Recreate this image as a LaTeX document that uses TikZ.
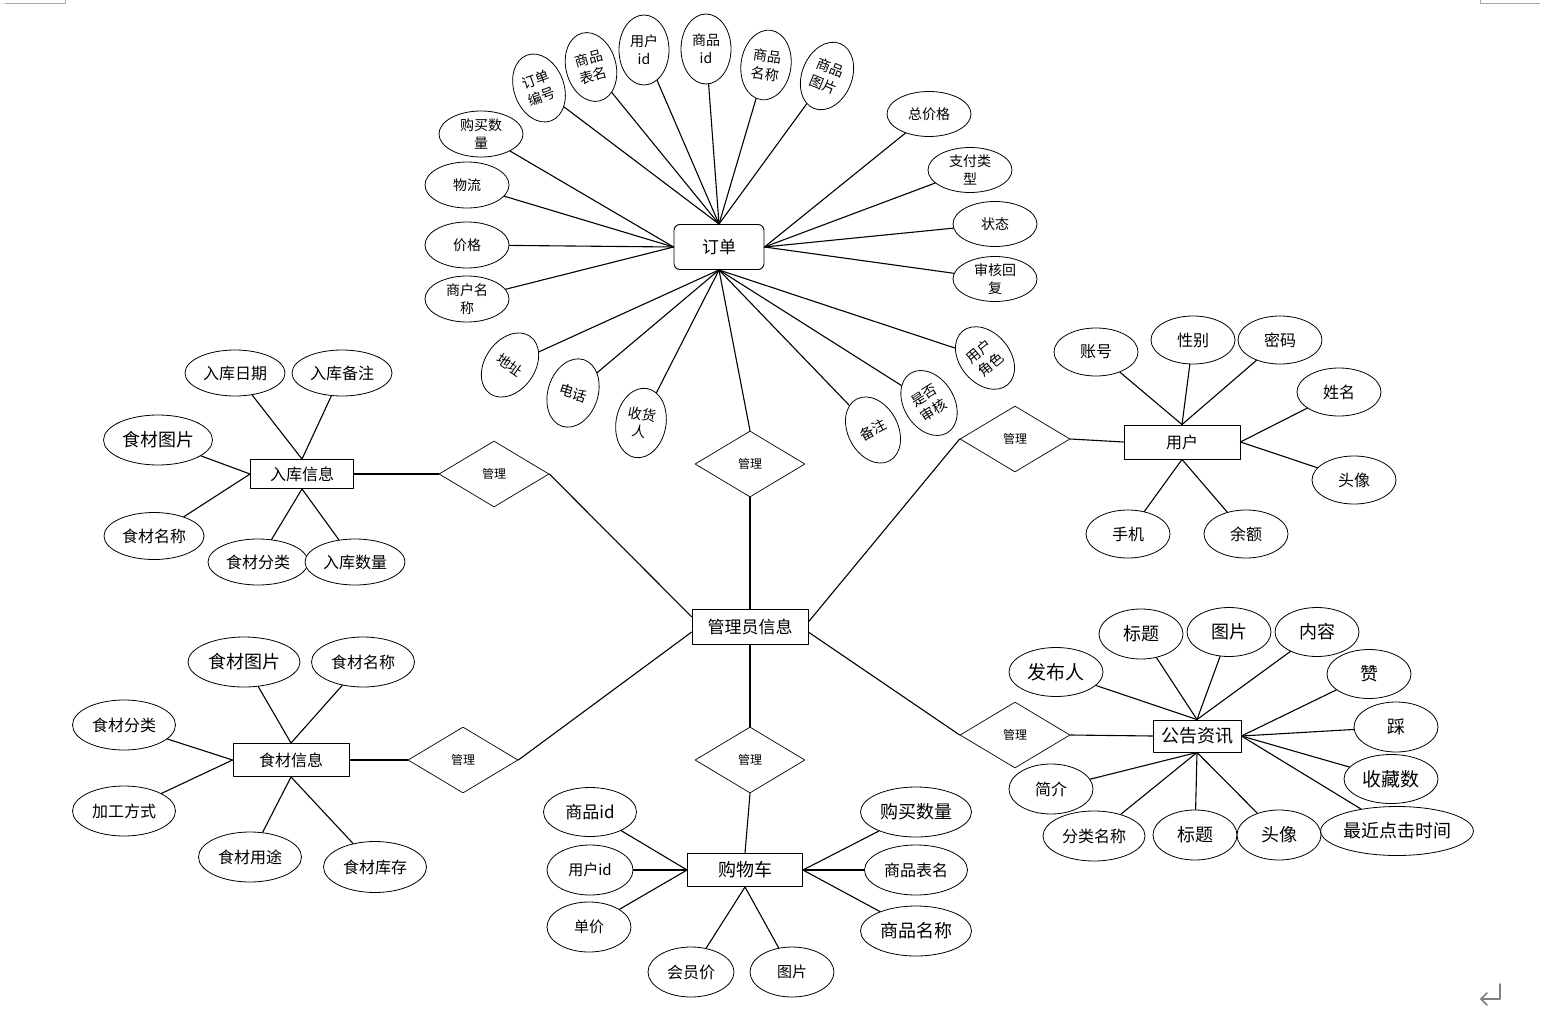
\documentclass[tikz,border=0pt]{standalone}
\usepackage{fontspec}
\setmainfont{Noto Sans CJK SC}
\usetikzlibrary{shapes.geometric}

\newcommand\fsz[2]{\fontsize{#1}{#2}\selectfont}

\tikzset{
  attr/.style={ellipse, draw, fill=white, line width=0.8pt, inner sep=0pt,
    minimum width=84, minimum height=48, align=center, font=\fsz{16}{19}},
  oattr/.style={attr, font=\fsz{14}{18}},
  vattr/.style={oattr, minimum width=50, minimum height=70},
  ent/.style={rectangle, draw, fill=white, line width=0.9pt,
    minimum width=116, minimum height=34, font=\fsz{16}{19}},
  rel/.style={diamond, draw, fill=white, line width=0.7pt, inner sep=0pt,
    minimum width=110, minimum height=66, font=\fsz{12}{14}},
  conn/.style={line width=1.1pt}
}

\begin{document}
\begin{tikzpicture}[x=1pt, y=-1pt, line cap=round, line join=round]
  \useasboundingbox (0,0) rectangle (1557,1019);

  % Segni della pagina
  \draw[gray!70, line width=0.8pt] (5,3) -- (65,3) -- (65,0);
  \draw[gray!70, line width=0.8pt] (1480,0) -- (1480,3) -- (1540,3);
  \draw[gray, line width=1.6pt] (1500,984) -- (1500,999) -- (1481,999);
  \draw[gray, line width=1.6pt] (1487,993) -- (1481,999) -- (1487,1005);

  % Entita
  \node[ent, rounded corners=6, minimum width=90, minimum height=45, font=\fsz{17}{20}] (ord) at (719,247) {订单};
  \node[ent, minimum height=35, font=\fsz{17}{20}] (admin) at (750,627) {管理员信息};
  \node[ent, minimum width=103, minimum height=29] (stock) at (302,474) {入库信息};
  \node[ent] (user) at (1182,442) {用户};
  \node[ent, minimum height=33] (food) at (291,760) {食材信息};
  \node[ent, minimum width=115, minimum height=33, font=\fsz{18}{20}] (cart) at (745,870) {购物车};
  \node[ent, minimum width=88, minimum height=32, font=\fsz{18}{20}] (news) at (1197,736) {公告资讯};

  % Relazioni
  \node[rel] (rOrd) at (750,464) {管理};
  \node[rel] (rStock) at (494,474) {管理};
  \node[rel] (rUser) at (1015,439) {管理};
  \node[rel] (rFood) at (463,760) {管理};
  \node[rel] (rCart) at (750,760) {管理};
  \node[rel] (rNews) at (1015,735) {管理};

  \draw[conn] (ord.south) -- (rOrd.north);
  \draw[conn] (rOrd.south) -- (admin.north);
  \draw[conn] (stock.east) -- (rStock.west);
  \draw[conn] (rStock.east) -- (admin.170);
  \draw[conn] (rUser.west) -- (admin.5);
  \draw[conn] (rUser.east) -- (user.west);
  \draw[conn] (food.east) -- (rFood.west);
  \draw[conn] (rFood.east) -- (admin.185);
  \draw[conn] (admin.south) -- (rCart.north);
  \draw[conn] (rCart.south) -- (cart.north);
  \draw[conn] (admin.-5) -- (rNews.west);
  \draw[conn] (rNews.east) -- (news.west);

  % Attributi ordine
  \node[vattr, rotate=20] (oNum) at (539,88) {订单\\编号};
  \node[vattr, rotate=15] (oTab) at (591,67) {商品\\表名};
  \node[vattr] (oUid) at (644,50) {用户\\id};
  \node[vattr] (oGid) at (706,49) {商品\\id};
  \node[vattr, rotate=-8] (oGnm) at (766,65) {商品\\名称};
  \node[vattr, rotate=-22] (oImg) at (827,76) {商品\\图片};
  \node[oattr, minimum height=46] (oQty) at (481,134) {购买数\\量};
  \node[oattr, minimum height=46] (oLog) at (467,185) {物流};
  \node[oattr, minimum height=46] (oPri) at (467,245) {价格};
  \node[oattr, minimum height=46] (oShop) at (467,299) {商户名\\称};
  \node[oattr, minimum height=45] (oTot) at (929,114) {总价格};
  \node[oattr, minimum height=45] (oPay) at (970,170) {支付类\\型};
  \node[oattr, minimum height=45] (oSta) at (995,224) {状态};
  \node[oattr, minimum height=45] (oRev) at (995,279) {审核回\\复};
  \node[vattr, rotate=-35] (oAdr) at (510,365) {地址};
  \node[vattr, rotate=-18] (oTel) at (573,393) {电话};
  \node[vattr, rotate=-10] (oRcv) at (641,423) {收货\\人};
  \node[vattr, rotate=28] (oNote) at (873,430) {备注};
  \node[vattr, rotate=32] (oChk) at (929,403) {是否\\审核};
  \node[vattr, rotate=40] (oRole) at (985,358) {用户\\角色};

  \foreach \a in {oNum,oTab,oUid,oGid,oGnm,oImg} \draw[conn] (\a) -- (ord.north);
  \foreach \a in {oQty,oLog,oPri,oShop} \draw[conn] (\a) -- (ord.west);
  \foreach \a in {oTot,oPay,oSta,oRev} \draw[conn] (\a) -- (ord.east);
  \foreach \a in {oAdr,oTel,oRcv,oNote,oChk,oRole} \draw[conn] (\a) -- (ord.south);

  % Attributi utente
  \node[attr] (uAcc) at (1096,352) {账号};
  \node[attr] (uSex) at (1193,340) {性别};
  \node[attr] (uPwd) at (1280,340) {密码};
  \node[attr] (uName) at (1339,392) {姓名};
  \node[attr] (uAva) at (1354,480) {头像};
  \node[attr] (uTel) at (1128,534) {手机};
  \node[attr] (uBal) at (1246,534) {余额};

  \foreach \a in {uAcc,uSex,uPwd} \draw[conn] (\a) -- (user.north);
  \foreach \a in {uName,uAva} \draw[conn] (\a) -- (user.east);
  \foreach \a in {uTel,uBal} \draw[conn] (\a) -- (user.south);

  % Attributi magazzino
  \node[attr, minimum width=100, minimum height=46] (sDate) at (235,373) {入库日期};
  \node[attr, minimum width=100, minimum height=46] (sNote) at (342,373) {入库备注};
  \node[attr, minimum width=109, minimum height=50, font=\fsz{18}{20}] (sImg) at (158,440) {食材图片};
  \node[attr, minimum width=100, minimum height=47] (sName) at (154,536) {食材名称};
  \node[attr, minimum width=100, minimum height=46] (sCat) at (258,562) {食材分类};
  \node[attr, minimum width=100, minimum height=46] (sQty) at (355,562) {入库数量};

  \foreach \a in {sDate,sNote} \draw[conn] (\a) -- (stock.north);
  \foreach \a in {sImg,sName} \draw[conn] (\a) -- (stock.west);
  \foreach \a in {sCat,sQty} \draw[conn] (\a) -- (stock.south);

  % Attributi alimenti
  \node[attr, minimum width=112, minimum height=50, font=\fsz{18}{20}] (fImg) at (244,662) {食材图片};
  \node[attr, minimum width=103, minimum height=50] (fName) at (363,662) {食材名称};
  \node[attr, minimum width=103, minimum height=50] (fCat) at (124,725) {食材分类};
  \node[attr, minimum width=103, minimum height=50] (fProc) at (124,811) {加工方式};
  \node[attr, minimum width=103, minimum height=50] (fUse) at (250,857) {食材用途};
  \node[attr, minimum width=103, minimum height=51] (fStk) at (375,867) {食材库存};

  \foreach \a in {fImg,fName} \draw[conn] (\a) -- (food.north);
  \foreach \a in {fCat,fProc} \draw[conn] (\a) -- (food.west);
  \foreach \a in {fUse,fStk} \draw[conn] (\a) -- (food.south);

  % Attributi carrello
  \node[attr, minimum width=93, minimum height=49, font=\fsz{17}{20}] (cGid) at (590,812) {商品id};
  \node[attr, minimum width=86, minimum height=50, font=\fsz{15}{18}] (cUid) at (590,870) {用户id};
  \node[attr, minimum height=50, font=\fsz{15}{18}] (cPri) at (589,927) {单价};
  \node[attr, minimum width=86, minimum height=50] (cVip) at (691,972) {会员价};
  \node[attr, minimum height=50, font=\fsz{15}{18}] (cImg) at (792,972) {图片};
  \node[attr, minimum width=111, minimum height=50, font=\fsz{18}{20}] (cQty) at (916,812) {购买数量};
  \node[attr, minimum width=103, minimum height=50] (cTab) at (916,870) {商品表名};
  \node[attr, minimum width=111, minimum height=50, font=\fsz{18}{20}] (cNam) at (916,931) {商品名称};

  \foreach \a in {cGid,cUid,cPri} \draw[conn] (\a) -- (cart.west);
  \foreach \a in {cQty,cTab,cNam} \draw[conn] (\a) -- (cart.east);
  \foreach \a in {cVip,cImg} \draw[conn] (\a) -- (cart.south);

  % Attributi notizie
  \node[attr, minimum width=94, minimum height=49, font=\fsz{19}{21}] (nPub) at (1056,672) {发布人};
  \node[attr, minimum height=50, font=\fsz{18}{20}] (nTit) at (1141,634) {标题};
  \node[attr, minimum height=49, font=\fsz{18}{20}] (nImg) at (1229,632) {图片};
  \node[attr, minimum height=49, font=\fsz{18}{20}] (nCon) at (1317,632) {内容};
  \node[attr, minimum height=49, font=\fsz{18}{20}] (nUp) at (1369,674) {赞};
  \node[attr, minimum height=50, font=\fsz{18}{20}] (nDown) at (1396,727) {踩};
  \node[attr, minimum width=94, minimum height=49, font=\fsz{19}{21}] (nFav) at (1391,779) {收藏数};
  \node[attr, minimum width=148, minimum height=49, font=\fsz{18}{20}] (nLast) at (1397,831) {最近点击时间};
  \node[attr, minimum height=50] (nIntro) at (1051,789) {简介};
  \node[attr, minimum width=102, minimum height=50] (nCat) at (1094,836) {分类名称};
  \node[attr, minimum height=50, font=\fsz{18}{20}] (nTit2) at (1195,835) {标题};
  \node[attr, minimum height=50, font=\fsz{18}{20}] (nAva) at (1279,835) {头像};

  \foreach \a in {nPub,nTit,nImg,nCon} \draw[conn] (\a) -- (news.north);
  \foreach \a in {nUp,nDown,nFav,nLast} \draw[conn] (\a) -- (news.east);
  \foreach \a in {nIntro,nCat,nTit2,nAva} \draw[conn] (\a) -- (news.south);

\end{tikzpicture}
\end{document}
